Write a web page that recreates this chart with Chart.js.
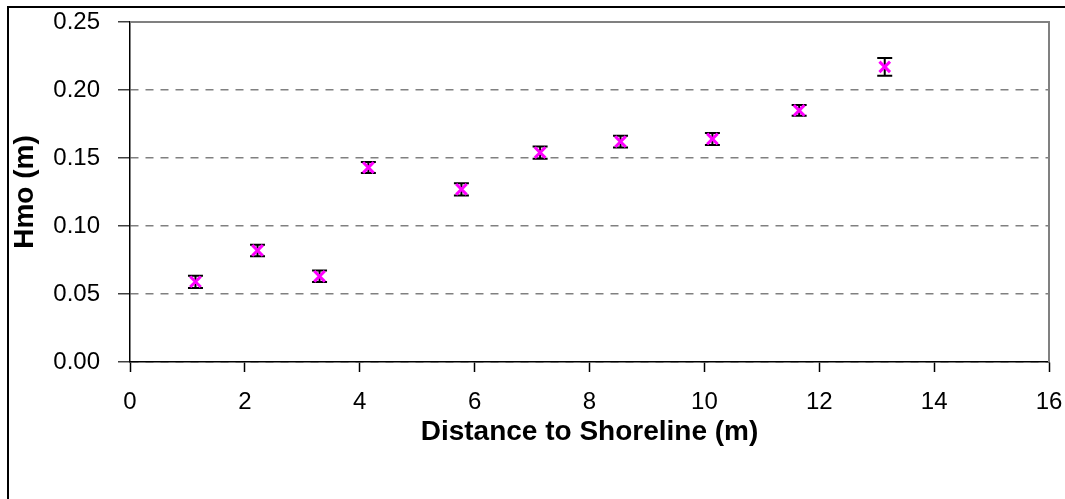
<!DOCTYPE html>
<html>
<head>
<meta charset="utf-8">
<script src="https://cdn.jsdelivr.net/npm/chart.js@4"></script>
<style>
    html, body { margin: 0; padding: 0; background: #fff; }
    #wrap { width: 1065px; height: 499px; position: relative; }
</style>
</head>
<body>
<div id="wrap"><canvas id="chart"></canvas></div>
<script>
// data
const distance = [1.14, 2.22, 3.30, 4.15, 5.77, 7.14, 8.54, 10.14, 11.65, 13.14];
const hmo = [0.059, 0.082, 0.063, 0.143, 0.127, 0.154, 0.162, 0.164, 0.185, 0.217];
const hmoError = [0.0045, 0.0043, 0.0042, 0.004, 0.0045, 0.0045, 0.0043, 0.0044, 0.004, 0.0065];
const xTicks = [0, 2, 4, 6, 8, 10, 12, 14, 16];
const yTicks = [0, 0.05, 0.10, 0.15, 0.20, 0.25];

const points = distance.map((d, i) => ({ x: d, y: hmo[i] }));

// error bars, frame and plot border
const extras = {
    id: 'extras',
    beforeDatasetsDraw(chart) {
        const ctx = chart.ctx;
        const xs = chart.scales.x, ys = chart.scales.y;
        ctx.save();
        ctx.strokeStyle = '#000';
        ctx.lineWidth = 2;
        distance.forEach((d, i) => {
            const px = xs.getPixelForValue(d);
            const top = ys.getPixelForValue(hmo[i] + hmoError[i]);
            const bot = ys.getPixelForValue(hmo[i] - hmoError[i]);
            ctx.beginPath();
            ctx.moveTo(px, top); ctx.lineTo(px, bot);
            ctx.moveTo(px - 7.5, top); ctx.lineTo(px + 7.5, top);
            ctx.moveTo(px - 7.5, bot); ctx.lineTo(px + 7.5, bot);
            ctx.stroke();
        });
        ctx.restore();
    },
    afterDraw(chart) {
        const ctx = chart.ctx;
        const a = chart.chartArea;
        ctx.save();
        // plot area top/right edge
        ctx.strokeStyle = '#808080';
        ctx.lineWidth = 2;
        ctx.beginPath();
        ctx.moveTo(a.left, a.top);
        ctx.lineTo(a.right, a.top);
        ctx.lineTo(a.right, a.bottom);
        ctx.stroke();
        // outer frame (left and top only visible)
        ctx.strokeStyle = '#000';
        ctx.lineWidth = 2;
        ctx.beginPath();
        ctx.moveTo(8, 499);
        ctx.lineTo(8, 7);
        ctx.lineTo(1065, 7);
        ctx.stroke();
        ctx.restore();
    }
};

new Chart(document.getElementById('chart'), {
    type: 'scatter',
    data: {
        datasets: [{
            label: 'Hmo',
            data: points,
            pointStyle: 'crossRot',
            pointRadius: 7.5,
            pointHoverRadius: 7.5,
            borderColor: '#FF00FF',
            backgroundColor: '#FF00FF',
            pointBorderWidth: 3,
        }],
    },
    options: {
        responsive: true,
        maintainAspectRatio: false,
        animation: false,
        layout: { padding: { left: 0, right: 16, top: 22, bottom: 0 } },
        plugins: {
            legend: { display: false },
            tooltip: { enabled: false },
        },
        scales: {
            x: {
                type: 'linear',
                min: 0,
                max: 16,
                afterBuildTicks: (scale) => { scale.ticks = xTicks.map(v => ({ value: v })); },
                afterFit: (scale) => {
                    scale.height = 137;
                    scale.paddingLeft = 0;
                    scale.paddingRight = 0;
                },
                grid: {
                    drawOnChartArea: false,
                    drawTicks: true,
                    tickLength: 10,
                    tickColor: '#000',
                    tickWidth: 1.5,
                },
                border: { color: '#000', width: 1.5 },
                ticks: {
                    color: '#000',
                    padding: 16,
                    font: { family: 'Liberation Sans, Arial', size: 24 },
                },
                title: {
                    display: true,
                    text: 'Distance to Shoreline (m)',
                    color: '#000',
                    font: { family: 'Liberation Sans, Arial', size: 28, weight: 'bold' },
                    padding: { top: 4, bottom: 50 },
                },
            },
            y: {
                min: 0,
                max: 0.25,
                afterBuildTicks: (scale) => { scale.ticks = yTicks.map(v => ({ value: v })); },
                afterFit: (scale) => {
                    scale.width = 130;
                    scale.paddingTop = 0;
                    scale.paddingBottom = 0;
                },
                grid: {
                    color: '#808080',
                    lineWidth: 1.5,
                    drawTicks: true,
                    tickLength: 12,
                    tickColor: '#404040',
                    tickWidth: 1.5,
                },
                border: { color: '#000', width: 1.5, dash: [8, 7] },
                ticks: {
                    color: '#000',
                    padding: 18,
                    font: { family: 'Liberation Sans, Arial', size: 24 },
                    callback: (v) => v.toFixed(2),
                },
                title: {
                    display: true,
                    text: 'Hmo (m)',
                    color: '#000',
                    font: { family: 'Liberation Sans, Arial', size: 28, weight: 'bold' },
                    padding: { top: 8, bottom: 2 },
                },
            },
        },
    },
    plugins: [extras],
});
</script>
</body>
</html>
